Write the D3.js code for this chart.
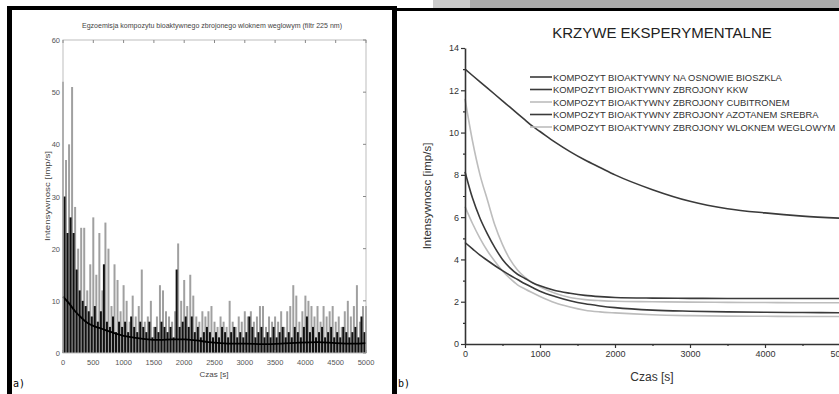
<!DOCTYPE html>
<html>
<head>
<meta charset="utf-8">
<script src="https://cdn.jsdelivr.net/npm/d3@7"></script>
<style>
  body { margin: 0; background: #fff; }
  svg { display: block; font-family: "Liberation Sans", Arial, sans-serif; }
</style>
</head>
<body>
<div id="chart"></div>
<script>
// ---- panel a) : noisy emission ----
const spikeStep = 50;
const grayPeaks = [52, 37, 40, 51, 28, 20, 24, 24, 12, 17,
  26, 15, 23, 12, 25, 20, 9, 17, 14, 8,
  13, 10, 6, 11, 7, 9, 16, 6, 7, 10,
  5, 7, 13, 12, 8, 7, 6, 8, 21, 10,
  14, 9, 15, 11, 7, 6, 8, 7, 8, 9,
  6, 5, 7, 6, 5, 10, 6, 5, 7, 6,
  8, 7, 8, 6, 7, 9, 9, 5, 7, 6,
  7, 6, 8, 5, 8, 9, 13, 11, 6, 8,
  11, 10, 9, 7, 9, 6, 9, 7, 8, 9,
  6, 7, 5, 8, 10, 7, 9, 13, 6, 9,
  9];
const blackPeaks = [30, 23, 26, 23, 16, 12, 10, 9, 8, 7,
  9, 6, 8, 17, 6, 5, 7, 4, 6, 5,
  6, 4, 7, 5, 4, 6, 5, 4, 6, 3,
  5, 4, 6, 5, 4, 5, 3, 16, 5, 6,
  7, 5, 7, 4, 5, 3, 4, 5, 4, 3,
  4, 3, 5, 4, 3, 4, 5, 3, 4, 3,
  4, 7, 5, 3, 4, 5, 3, 4, 3, 5,
  3, 4, 5, 3, 4, 3, 5, 4, 3, 5,
  7, 4, 5, 3, 4, 5, 3, 4, 5, 3,
  4, 3, 5, 4, 3, 4, 5, 3, 7, 4];
const trendT = [0, 100, 200, 300, 400, 500, 600, 700, 800, 900, 1000, 1200, 1400, 1600, 1800, 2000, 2200, 2400, 2600, 2800, 3000, 3300, 3600, 3900, 4200, 4500, 4800, 5000];
const trendV = [10.8, 9.5, 8, 6.8, 5.8, 5.2, 4.8, 4.4, 4.0, 3.6, 3.3, 2.9, 2.6, 2.5, 2.6, 2.6, 2.4, 2.1, 1.9, 1.8, 1.8, 1.7, 1.8, 2.0, 2.1, 1.9, 1.8, 1.9];
const leftXTicks = [0, 500, 1000, 1500, 2000, 2500, 3000, 3500, 4000, 4500, 5000];
const leftYTicks = [0, 10, 20, 30, 40, 50, 60];

// ---- panel b) : fitted curves ----
const curveT = [0, 100, 200, 300, 400, 500, 600, 700, 800, 900, 1000, 1200, 1400, 1600, 1800, 2000, 2500, 3000, 3500, 4000, 4500, 5000];
const seriesNames = [
  "KOMPOZYT BIOAKTYWNY NA OSNOWIE BIOSZKLA",
  "KOMPOZYT BIOAKTYWNY ZBROJONY KKW",
  "KOMPOZYT BIOAKTYWNY ZBROJONY CUBITRONEM",
  "KOMPOZYT BIOAKTYWNY ZBROJONY AZOTANEM SREBRA",
  "KOMPOZYT BIOAKTYWNY ZBROJONY WLOKNEM WEGLOWYM"
];
const bioszkla = [13.0, 12.7, 12.4, 12.1, 11.8, 11.5, 11.2, 10.9, 10.6, 10.3, 10.05, 9.55, 9.1, 8.7, 8.35, 8.0, 7.3, 6.75, 6.4, 6.2, 6.05, 5.95];
const kkw = [8.15, 6.9, 5.95, 5.2, 4.55, 4.0, 3.6, 3.3, 3.1, 2.9, 2.75, 2.53, 2.4, 2.3, 2.24, 2.2, 2.17, 2.16, 2.15, 2.15, 2.15, 2.15];
const cubitron = [11.6, 9.6, 8.0, 6.8, 5.6, 4.7, 4.0, 3.5, 3.15, 2.9, 2.7, 2.4, 2.2, 2.1, 2.05, 2.02, 2.0, 1.98, 1.97, 1.96, 1.95, 1.95];
const azotan = [4.8, 4.5, 4.2, 3.95, 3.7, 3.47, 3.25, 3.05, 2.85, 2.67, 2.5, 2.25, 2.05, 1.9, 1.8, 1.72, 1.6, 1.55, 1.52, 1.5, 1.49, 1.48];
const wlokno = [6.5, 5.7, 5.0, 4.4, 3.9, 3.45, 3.1, 2.8, 2.6, 2.42, 2.25, 1.95, 1.75, 1.6, 1.52, 1.47, 1.38, 1.34, 1.32, 1.31, 1.3, 1.3];
const seriesColors = ["#3a3a3a", "#3a3a3a", "#bdbdbd", "#3a3a3a", "#bdbdbd"];
const rightXTicks = [0, 1000, 2000, 3000, 4000, 5000];
const rightYTicks = [0, 2, 4, 6, 8, 10, 12, 14];

const W = 839, H = 394;
const svg = d3.select('#chart').append('svg').attr('width', W).attr('height', H);

// page decoration / frames
svg.append('rect').attr('x', 433).attr('y', 0).attr('width', 37).attr('height', 8).attr('fill', '#cbcbcb');
svg.append('rect').attr('x', 470).attr('y', 0).attr('width', W - 470).attr('height', 8).attr('fill', '#ababab');
svg.append('rect').attr('x', 7).attr('y', 6).attr('width', 390).attr('height', 4).attr('fill', '#000');
svg.append('rect').attr('x', 7).attr('y', 6).attr('width', 5).attr('height', H - 6).attr('fill', '#000');
svg.append('rect').attr('x', 392).attr('y', 8).attr('width', W - 392).attr('height', 3).attr('fill', '#000');
svg.append('rect').attr('x', 392).attr('y', 8).attr('width', 5).attr('height', H - 8).attr('fill', '#000');
svg.append('text').attr('x', 13).attr('y', 387).attr('font-family', 'DejaVu Sans Mono, monospace').attr('font-size', 10).text('a)');
svg.append('text').attr('x', 398).attr('y', 387).attr('font-family', 'DejaVu Sans Mono, monospace').attr('font-size', 10).text('b)');

// ================= panel a =================
const xL = d3.scaleLinear().domain([0, 5000]).range([63, 366]);
const yL = d3.scaleLinear().domain([0, 60]).range([353, 40]);
const gA = svg.append('g');

gA.selectAll('.gspike').data(grayPeaks).enter().append('line')
  .attr('x1', (d, i) => xL(i * spikeStep)).attr('x2', (d, i) => xL(i * spikeStep))
  .attr('y1', yL(0)).attr('y2', d => yL(d))
  .attr('stroke', '#a0a0a0').attr('stroke-width', 2);
gA.selectAll('.bspike').data(blackPeaks).enter().append('line')
  .attr('x1', (d, i) => xL(spikeStep / 2 + i * spikeStep)).attr('x2', (d, i) => xL(spikeStep / 2 + i * spikeStep))
  .attr('y1', yL(0)).attr('y2', d => yL(d))
  .attr('stroke', '#111').attr('stroke-width', 2);
gA.append('path')
  .datum(trendT.map((t, i) => [t, trendV[i]]))
  .attr('fill', 'none').attr('stroke', '#000').attr('stroke-width', 1.8)
  .attr('d', d3.line().x(d => xL(d[0])).y(d => yL(d[1])).curve(d3.curveMonotoneX));

// box and inward ticks
gA.append('rect').attr('x', 63).attr('y', 40).attr('width', 303).attr('height', 313)
  .attr('fill', 'none').attr('stroke', '#bdbdbd').attr('stroke-width', 1);
leftXTicks.forEach(t => {
  gA.append('line').attr('x1', xL(t)).attr('x2', xL(t)).attr('y1', 40).attr('y2', 43).attr('stroke', '#888');
  gA.append('line').attr('x1', xL(t)).attr('x2', xL(t)).attr('y1', 353).attr('y2', 350).attr('stroke', '#888');
});
leftYTicks.forEach(v => {
  gA.append('line').attr('x1', 366).attr('x2', 363).attr('y1', yL(v)).attr('y2', yL(v)).attr('stroke', '#888');
});
gA.selectAll('.xl').data(leftXTicks).enter().append('text')
  .attr('x', d => xL(d)).attr('y', 365).attr('text-anchor', 'middle')
  .attr('font-size', 7.5).attr('fill', '#555').attr('font-family', 'Liberation Sans Narrow, Arial Narrow, sans-serif').text(d => d);
gA.selectAll('.yl').data(leftYTicks).enter().append('text')
  .attr('x', 60).attr('y', d => yL(d) + 3).attr('text-anchor', 'end')
  .attr('font-size', 7.5).attr('fill', '#555').attr('font-family', 'Liberation Sans Narrow, Arial Narrow, sans-serif').text(d => d);
gA.append('text').attr('x', 212).attr('y', 28).attr('text-anchor', 'middle')
  .attr('font-size', 8).attr('fill', '#444').attr('textLength', 260).attr('lengthAdjust', 'spacingAndGlyphs')
  .text('Egzoemisja kompozytu bioaktywnego zbrojonego wloknem weglowym (filtr 225 nm)');
gA.append('text').attr('x', 214).attr('y', 377).attr('text-anchor', 'middle')
  .attr('font-size', 8).attr('fill', '#444').text('Czas [s]');
gA.append('text').attr('transform', 'translate(50,196) rotate(-90)').attr('text-anchor', 'middle')
  .attr('font-size', 8).attr('fill', '#444').attr('textLength', 90).attr('lengthAdjust', 'spacingAndGlyphs')
  .text('Intensywnosc [imp/s]');

// ================= panel b =================
const xR = d3.scaleLinear().domain([0, 5000]).range([465, 840]);
const yR = d3.scaleLinear().domain([0, 14]).range([344, 48]);
const gB = svg.append('g');

gB.append('text').attr('x', 662).attr('y', 38).attr('text-anchor', 'middle')
  .attr('font-size', 15).attr('fill', '#222').text('KRZYWE EKSPERYMENTALNE');

const allSeries = [bioszkla, kkw, cubitron, azotan, wlokno];
const lineR = d3.line().x(d => xR(d[0])).y(d => yR(d[1])).curve(d3.curveMonotoneX);
// draw light ones first so dark curves sit on top
[2, 4, 0, 1, 3].forEach(k => {
  gB.append('path')
    .datum(curveT.map((t, i) => [t, allSeries[k][i]]))
    .attr('fill', 'none').attr('stroke', seriesColors[k]).attr('stroke-width', 1.6)
    .attr('d', lineR);
});

const yAxis = d3.axisLeft(yR).tickValues(rightYTicks).tickSize(4).tickSizeOuter(0).tickPadding(2);
const yMinor = d3.axisLeft(yR).tickValues(d3.range(1, 14, 2)).tickSize(2).tickFormat('');
const xAxis = d3.axisBottom(xR).tickValues(rightXTicks).tickSize(4).tickSizeOuter(0).tickPadding(3).tickFormat(d3.format('d'));
const xMinor = d3.axisBottom(xR).tickValues([500, 1500, 2500, 3500, 4500]).tickSize(2).tickFormat('');

gB.append('g').attr('transform', 'translate(465,0)').call(yAxis);
gB.append('g').attr('transform', 'translate(465,0)').call(yMinor).select('.domain').remove();
gB.append('g').attr('transform', 'translate(0,344)').call(xAxis);
gB.append('g').attr('transform', 'translate(0,344)').call(xMinor).select('.domain').remove();
gB.selectAll('.domain').attr('stroke', '#333').attr('stroke-width', 1.6);
gB.selectAll('.tick line').attr('stroke', '#333').attr('stroke-width', 1.2);
gB.selectAll('.tick text').attr('font-size', 9).attr('fill', '#333').attr('font-family', 'Liberation Sans, Arial, sans-serif');

gB.append('text').attr('x', 652).attr('y', 381).attr('text-anchor', 'middle')
  .attr('font-size', 12).attr('fill', '#333').text('Czas [s]');
gB.append('text').attr('transform', 'translate(431,196) rotate(-90)').attr('text-anchor', 'middle')
  .attr('font-size', 11.5).attr('fill', '#333').text('Intensywnosc [imp/s]');

// legend
const legY = [77, 89.5, 102, 114.5, 127];
seriesNames.forEach((name, k) => {
  gB.append('line').attr('x1', 530).attr('x2', 552).attr('y1', legY[k]).attr('y2', legY[k])
    .attr('stroke', seriesColors[k]).attr('stroke-width', 1.6);
  gB.append('text').attr('x', 553).attr('y', legY[k] + 3.5).attr('font-size', 9.4).attr('fill', '#333').text(name);
});
</script>
</body>
</html>
